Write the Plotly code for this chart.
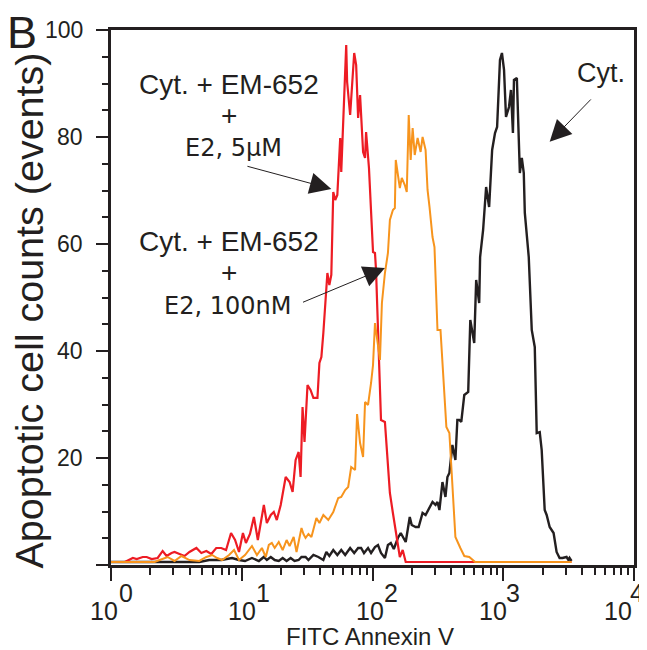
import plotly.graph_objects as go

# ---------------- data ----------------
# x positions are log10(FITC Annexin V intensity); y = event counts
red_lx = [0, 0.106, 0.167, 0.197, 0.243, 0.273, 0.311, 0.357, 0.395, 0.425,
          0.463, 0.486, 0.524, 0.562, 0.600, 0.653, 0.691, 0.729, 0.767, 0.805,
          0.843, 0.880, 0.918, 0.949, 0.979, 1.009, 1.032, 1.063, 1.093, 1.123,
          1.169, 1.192, 1.222, 1.245, 1.268, 1.298, 1.336, 1.366, 1.389, 1.412,
          1.435, 1.450, 1.465, 1.480, 1.503, 1.526, 1.548, 1.579, 1.594, 1.609,
          1.624, 1.639, 1.655, 1.670, 1.685, 1.700, 1.715, 1.731, 1.753, 1.761,
          1.776, 1.799, 1.806, 1.829, 1.860, 1.875, 1.890, 1.905, 1.928, 1.943,
          1.951, 1.973, 2.004, 2.019, 2.027, 2.049, 2.065, 2.095, 2.133, 2.156,
          2.194, 2.209, 2.231, 2.254, 3.522]
red_y = [0.56, 0.56, 1.31, 1.12, 1.50, 1.50, 1.12, 1.31, 2.62, 1.68,
         2.24, 2.43, 2.06, 1.68, 2.43, 3.18, 2.24, 2.62, 2.06, 3.18,
         3.18, 2.80, 5.98, 4.67, 2.43, 5.98, 4.11, 5.79, 8.97, 4.67,
         11.22, 7.85, 9.35, 9.91, 8.41, 11.22, 16.45, 15.51, 13.65, 19.63,
         21.12, 16.45, 29.53, 22.99, 33.65, 32.71, 31.22, 31.22, 37.76, 38.88,
         43.37, 48.60, 54.58, 52.34, 54.21, 69.72, 68.23, 69.16, 79.81, 73.46,
         83.55, 97.20, 90.28, 84.11, 95.70, 93.46, 83.55, 87.85, 77.20, 76.08,
         80.94, 74.21, 58.51, 58.32, 55.14, 40.19, 27.10, 26.73, 13.46, 9.72,
         4.11, 1.50, 2.80, 0.56, 0.56]

orange_lx = [0, 0.334, 0.372, 0.433, 0.486, 0.539, 0.600, 0.675, 0.729, 0.774,
             0.812, 0.850, 0.903, 0.941, 0.979, 1.025, 1.078, 1.116, 1.154, 1.184,
             1.207, 1.230, 1.252, 1.283, 1.313, 1.343, 1.366, 1.397, 1.419, 1.457,
             1.472, 1.488, 1.510, 1.533, 1.571, 1.594, 1.624, 1.662, 1.700, 1.738,
             1.761, 1.791, 1.814, 1.837, 1.867, 1.882, 1.905, 1.928, 1.943, 1.966,
             1.989, 2.004, 2.019, 2.042, 2.057, 2.072, 2.095, 2.118, 2.133, 2.156,
             2.171, 2.178, 2.209, 2.224, 2.247, 2.262, 2.277, 2.292, 2.307, 2.323,
             2.345, 2.368, 2.383, 2.406, 2.421, 2.436, 2.459, 2.474, 2.497, 2.520,
             2.550, 2.565, 2.588, 2.611, 2.634, 2.672, 2.702, 2.740, 2.770, 2.785,
             3.522]
orange_y = [0.56, 0.56, 0.93, 1.50, 0.75, 1.68, 0.93, 0.75, 1.50, 1.87,
            1.31, 0.93, 1.87, 2.80, 0.93, 1.87, 3.55, 1.87, 3.18, 1.50,
            3.74, 4.11, 3.18, 4.30, 2.80, 4.67, 3.55, 5.23, 2.43, 6.92,
            5.79, 5.05, 5.79, 5.23, 8.79, 7.85, 9.35, 8.41, 9.91, 12.52,
            12.71, 14.02, 14.58, 18.32, 17.76, 28.22, 22.80, 20.19, 30.47, 29.91,
            34.02, 37.38, 45.23, 41.50, 38.32, 48.97, 54.58, 58.32, 64.49, 66.36,
            66.73, 75.70, 70.47, 72.34, 71.03, 69.72, 84.11, 75.70, 81.68, 76.64,
            79.81, 77.20, 80.00, 77.57, 70.10, 66.92, 61.31, 59.44, 43.93, 43.93,
            30.84, 25.79, 24.67, 15.33, 5.23, 3.18, 1.68, 1.50, 0.93, 0.56,
            0.56]

black_lx = [0, 0.675, 0.751, 0.843, 0.926, 0.979, 1.025, 1.078, 1.131, 1.169,
            1.192, 1.222, 1.252, 1.283, 1.313, 1.343, 1.374, 1.404, 1.435, 1.457,
            1.488, 1.510, 1.548, 1.586, 1.624, 1.647, 1.670, 1.700, 1.731, 1.761,
            1.791, 1.829, 1.860, 1.890, 1.913, 1.935, 1.966, 1.989, 2.019, 2.042,
            2.065, 2.095, 2.118, 2.140, 2.163, 2.194, 2.216, 2.239, 2.254, 2.269,
            2.285, 2.300, 2.330, 2.353, 2.383, 2.406, 2.436, 2.459, 2.482, 2.497,
            2.512, 2.535, 2.558, 2.573, 2.588, 2.611, 2.634, 2.649, 2.664, 2.679,
            2.702, 2.732, 2.748, 2.778, 2.793, 2.816, 2.823, 2.846, 2.869, 2.892,
            2.915, 2.937, 2.953, 2.975, 2.990, 3.006, 3.021, 3.044, 3.059, 3.074,
            3.082, 3.104, 3.127, 3.142, 3.157, 3.165, 3.195, 3.218, 3.241, 3.256,
            3.279, 3.294, 3.317, 3.332, 3.355, 3.385, 3.408, 3.431, 3.453, 3.484,
            3.499, 3.507, 3.522]
black_y = [0.56, 0.56, 0.93, 0.93, 1.31, 0.93, 0.75, 1.31, 0.75, 1.50,
           0.93, 1.50, 0.93, 0.75, 1.31, 0.75, 1.31, 0.75, 0.93, 1.50,
           1.50, 0.93, 1.87, 1.50, 0.93, 2.43, 1.68, 2.80, 1.87, 2.80,
           1.87, 3.18, 2.24, 3.18, 3.18, 2.24, 3.18, 2.24, 3.36, 3.74,
           2.24, 1.31, 3.74, 4.11, 2.99, 5.05, 5.98, 5.05, 4.30, 6.54,
           8.97, 7.48, 7.10, 7.10, 9.72, 9.35, 10.65, 11.78, 11.22, 11.78,
           10.28, 15.51, 12.71, 16.45, 17.20, 22.43, 19.63, 27.10, 27.10, 26.73,
           31.78, 32.34, 45.79, 41.50, 53.27, 48.97, 57.57, 62.62, 70.66, 66.92,
           77.57, 80.75, 81.87, 94.39, 95.70, 92.53, 83.74, 85.61, 88.79, 80.75,
           90.66, 91.03, 73.27, 76.08, 73.27, 65.80, 57.57, 43.93, 40.75, 24.67,
           24.86, 21.50, 10.28, 9.35, 7.10, 5.98, 2.43, 1.31, 1.31, 1.50,
           0.93, 1.31, 0.75]

x_decades = [0, 1, 2, 3, 4]
x_base_label = "10"
y_ticks = [20, 40, 60, 80, 100]          # labelled y ticks (0 is not labelled)
y_tick_all = [0, 20, 40, 60, 80, 100]

RED = "#ED1C24"
ORANGE = "#F7941D"
BLACK = "#231F20"
FONT = "Liberation Sans, Arial, sans-serif"
E2FONT = "DejaVu Sans, sans-serif"

fig = go.Figure()
for lx, y, col, w in [(black_lx, black_y, BLACK, 2.4),
                      (red_lx, red_y, RED, 2.2),
                      (orange_lx, orange_y, ORANGE, 2.0)]:
    fig.add_trace(go.Scatter(x=[10 ** v for v in lx], y=y, mode="lines",
                             line=dict(color=col, width=w),
                             hoverinfo="skip", showlegend=False))

ann = []
# x tick labels 10^n (base and raised exponent, hand-placed as in the original)
base_dx = [-7, 0, -3, -10, -16]
exp_dx = [15, 21, 18, 10, 3]
for n, bdx, edx in zip(x_decades, base_dx, exp_dx):
    ann.append(dict(x=n, xref="x", y=0, yref="paper", text=x_base_label,
                    showarrow=False, xanchor="center", yanchor="middle",
                    xshift=bdx, yshift=-46, font=dict(size=25, color=BLACK, family=FONT)))
    ann.append(dict(x=n, xref="x", y=0, yref="paper", text=str(n),
                    showarrow=False, xanchor="center", yanchor="middle",
                    xshift=edx, yshift=-28, font=dict(size=25, color=BLACK, family=FONT)))

# y tick labels
for v in y_ticks:
    ann.append(dict(x=0, xref="paper", y=v, yref="y", text=str(v),
                    showarrow=False, xanchor="right", yanchor="middle",
                    xshift=-26, font=dict(size=23, color=BLACK, family=FONT)))

# axis titles
ann.append(dict(x=0.5, xref="paper", y=0, yref="paper", text="FITC Annexin V",
                showarrow=False, xanchor="center", yanchor="middle", xshift=-3, yshift=-71,
                font=dict(size=24, color=BLACK, family=FONT)))
ann.append(dict(x=0, xref="paper", y=0.5, yref="paper",
                text="Apoptotic cell counts (events)", textangle=-90,
                showarrow=False, xanchor="center", yanchor="middle", xshift=-83, yshift=-13,
                font=dict(size=39.5, color=BLACK, family=FONT)))
ann.append(dict(x=0, xref="paper", y=1, yref="paper", text="B",
                showarrow=False, xanchor="center", yanchor="middle", xshift=-89, yshift=-2,
                font=dict(size=45, color=BLACK, family=FONT)))

# labels
def lab(lx, y, text, size=28, family=FONT):
    ann.append(dict(x=lx, y=y, xref="x", yref="y", text=text, showarrow=False,
                    xanchor="center", yanchor="middle",
                    font=dict(size=size, color=BLACK, family=family)))

lab(0.903, 89.9, "Cyt. + EM-652")
lab(0.903, 84.1, "+")
lab(0.935, 77.9, "E2, 5µM", size=24, family=E2FONT)
lab(0.903, 60.4, "Cyt. + EM-652")
lab(0.903, 54.6, "+")
lab(0.893, 48.4, "E2, 100nM", size=24, family=E2FONT)
lab(3.745, 92.0, "Cyt.", size=27)

# arrows (tail -> tip)
def arrow(tail, tip):
    ann.append(dict(x=tip[0], y=tip[1], ax=tail[0], ay=tail[1],
                    xref="x", yref="y", axref="x", ayref="y", text="",
                    showarrow=True, arrowhead=2, arrowsize=4.3, arrowwidth=1,
                    arrowcolor=BLACK, standoff=0))

arrow((1.032, 74.6), (1.685, 70.3))
arrow((1.457, 49.0), (2.095, 55.5))
arrow((3.681, 87.3), (3.355, 79.1))

axis_common = dict(showline=True, linewidth=3, linecolor=BLACK, mirror=True,
                   showgrid=False, zeroline=False, ticks="outside",
                   tickcolor=BLACK, tickwidth=2)

# the page adds an 8px body margin, so the figure is 8px smaller than the window
fig.update_layout(
    width=639, height=642,
    margin=dict(l=103, r=10, t=22, b=85),
    paper_bgcolor="white", plot_bgcolor="white",
    font=dict(family=FONT, color=BLACK),
    xaxis=dict(type="log", range=[0, 4], dtick=1, ticklen=13,
               showticklabels=False,
               minor=dict(ticks="outside", ticklen=7, tickwidth=2,
                          tickcolor=BLACK, dtick="D1", showgrid=False),
               **axis_common),
    yaxis=dict(range=[0, 100], tickvals=y_tick_all, ticklen=12,
               showticklabels=False,
               minor=dict(ticks="outside", ticklen=6, tickwidth=2,
                          tickcolor=BLACK, dtick=5, showgrid=False),
               **axis_common),
    annotations=ann,
    showlegend=False,
)

fig.write_html("out.html")
